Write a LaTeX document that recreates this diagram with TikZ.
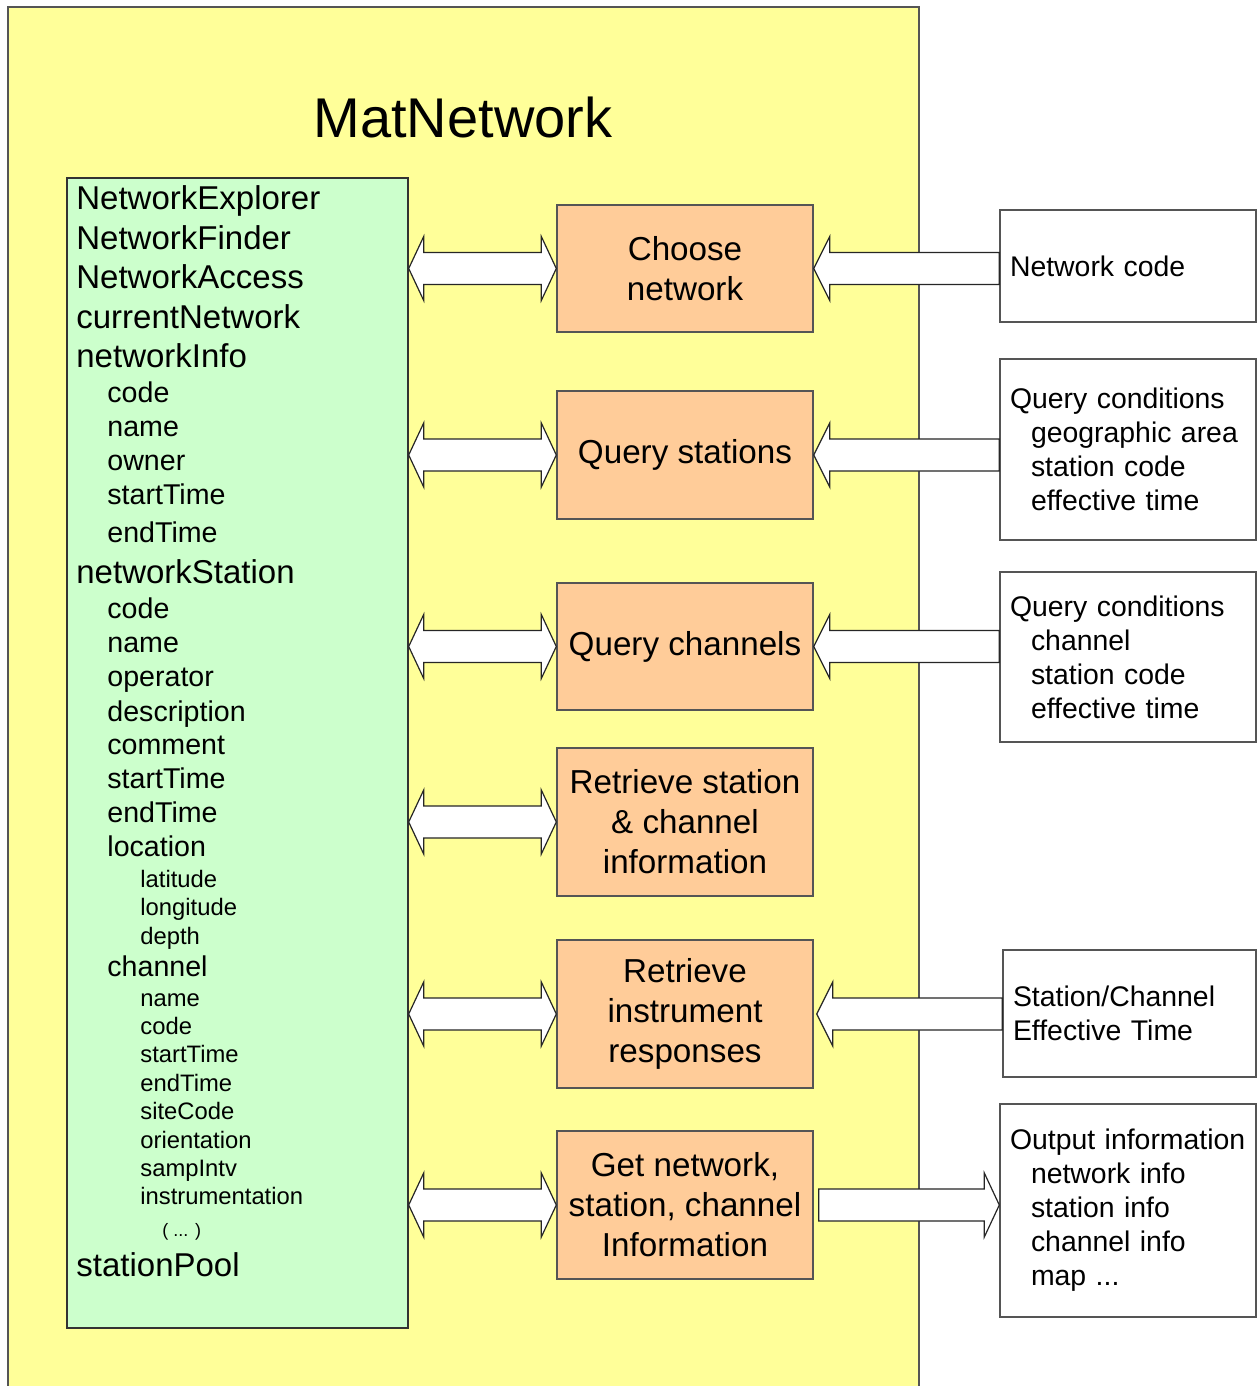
\documentclass[tikz,border=0pt]{standalone}
\usepackage{fontspec}
\setmainfont{Liberation Sans}
\usetikzlibrary{calc}
\definecolor{frameyellow}{HTML}{FFFF99}
\definecolor{listgreen}{HTML}{CCFFCC}
\definecolor{procorange}{HTML}{FFCC99}
\definecolor{edgegray}{HTML}{555555}
\tikzset{
blockarrow/.style={draw=black!85, fill=white, line width=0.6pt, line join=miter},
bigitem/.style={anchor=base west, inner sep=0pt, font=\fontsize{16.5}{20}\selectfont},
subitem/.style={anchor=base west, inner sep=0pt, font=\fontsize{14.3}{17}\selectfont},
leafitem/.style={anchor=base west, inner sep=0pt, font=\fontsize{11.9}{14}\selectfont},
procbox/.style={rectangle, draw=edgegray, line width=0.7pt, fill=procorange,
  minimum width=128pt, align=center, inner sep=0pt,
  font=\fontsize{16.6}{20}\selectfont},
infobox/.style={rectangle, draw=edgegray, line width=0.7pt, fill=white,
  text width=118pt, inner xsep=5pt, inner ysep=0pt, align=left,
  font=\fontsize{14.2}{17}\selectfont}
}
% two-headed block arrow between two points at the same height
\newcommand\twowayarrow[2]{%
  \draw[blockarrow] let \p1=(#1), \p2=(#2) in
    (\x1,\y1) -- (\x1+7.5pt,\y1+16pt) -- (\x1+7.5pt,\y1+8pt)
    -- (\x2-7.5pt,\y1+8pt) -- (\x2-7.5pt,\y1+16pt) -- (\x2,\y1)
    -- (\x2-7.5pt,\y1-16pt) -- (\x2-7.5pt,\y1-8pt)
    -- (\x1+7.5pt,\y1-8pt) -- (\x1+7.5pt,\y1-16pt) -- cycle;}
% block arrow pointing left: tip at #1, tail at #2
\newcommand\feedarrow[2]{%
  \draw[blockarrow] let \p1=(#1), \p2=(#2) in
    (\x1,\y1) -- (\x1+8pt,\y1+16pt) -- (\x1+8pt,\y1+8pt)
    -- (\x2,\y1+8pt) -- (\x2,\y1-8pt)
    -- (\x1+8pt,\y1-8pt) -- (\x1+8pt,\y1-16pt) -- cycle;}
% block arrow pointing right: tail at #1, tip at #2
\newcommand\sendarrow[2]{%
  \draw[blockarrow] let \p1=(#1), \p2=(#2) in
    (\x1,\y1+8pt) -- (\x2-7.5pt,\y1+8pt) -- (\x2-7.5pt,\y1+16pt)
    -- (\x2,\y1) -- (\x2-7.5pt,\y1-16pt) -- (\x2-7.5pt,\y1-8pt)
    -- (\x1,\y1-8pt) -- cycle;}
\begin{document}
\begin{tikzpicture}[x=0.5pt,y=-0.5pt]
\useasboundingbox (0,0) rectangle (1257,1386);
\begin{scope}
\clip (0,0) rectangle (1257,1386);
\fill[white] (0,0) rectangle (1257,1386);
\draw[draw=edgegray, line width=0.8pt, fill=frameyellow] (8,7) rectangle (919,1400);
\end{scope}

\node (title) at (463,117) [font=\fontsize{28}{34}\selectfont] {MatNetwork};

% member list
\node (vars) at (237.5,753) [rectangle, draw=black!80, line width=0.7pt, fill=listgreen,
  minimum width=170.5pt, minimum height=575pt, inner sep=0pt] {};
\foreach \y/\t [count=\i] in {209.5/NetworkExplorer, 249.5/NetworkFinder,
  288.5/NetworkAccess, 328.5/currentNetwork, 367.5/networkInfo,
  583.5/networkStation, 1276.5/stationPool}
  \node (big\i) at (76,\y) [bigitem] {\t};
\foreach \y/\t [count=\i] in {402/code, 436/name, 470/owner, 504/startTime,
  542/endTime, 618/code, 652/name, 686/operator, 721/description, 754/comment,
  788/startTime, 822/endTime, 856/location, 976/channel}
  \node (sub\i) at (107,\y) [subitem] {\t};
\foreach \y/\t [count=\i] in {887/latitude, 915/longitude, 944/depth, 1006/name,
  1034/code, 1062/startTime, 1091/endTime, 1119/siteCode, 1148/orientation,
  1176/sampIntv, 1204/instrumentation}
  \node (leaf\i) at (140,\y) [leafitem] {\t};
\node (more) at (162,1236) [anchor=base west, inner sep=0pt, font=\fontsize{9}{11}\selectfont] {( ... )};

% processing steps
\node (choose) at (685,268.5) [procbox, minimum height=63.5pt] {Choose\\network};
\node (qsta) at (685,455) [procbox, minimum height=64pt] {Query stations};
\node (qcha) at (685,646.5) [procbox, minimum height=63.5pt] {Query channels};
\node (retr) at (685,822) [procbox, minimum height=74pt] {Retrieve station\\\& channel\\information};
\node (resp) at (685,1014) [procbox, minimum height=74pt] {Retrieve\\instrument\\responses};
\node (getinfo) at (685,1205) [procbox, minimum height=74pt] {Get network,\\station, channel\\Information};

% inputs and output
\node (netcode) at (1128,266) [infobox, minimum height=56pt] {Network code};
\node (stacond) at (1128,449.5) [infobox, minimum height=90.5pt] {Query conditions\\
  \hspace*{10.5pt}geographic area\\\hspace*{10.5pt}station code\\\hspace*{10.5pt}effective time};
\node (chacond) at (1128,657) [infobox, minimum height=85pt] {Query conditions\\
  \hspace*{10.5pt}channel\\\hspace*{10.5pt}station code\\\hspace*{10.5pt}effective time};
\node (efftime) at (1129.5,1013.5) [infobox, text width=116.5pt, minimum height=63.5pt] {Station/Channel\\Effective Time};
\node (outinfo) at (1128,1210.5) [infobox, minimum height=106.5pt] {Output information\\
  \hspace*{10.5pt}network info\\\hspace*{10.5pt}station info\\\hspace*{10.5pt}channel info\\\hspace*{10.5pt}map ...};

% connectors
\foreach \s in {choose, qsta, qcha, retr, resp, getinfo}
  \twowayarrow{vars.east |- \s}{\s.west};
\feedarrow{choose.east}{netcode.west |- choose};
\feedarrow{qsta.east}{stacond.west |- qsta};
\feedarrow{qcha.east}{chacond.west |- qcha};
\feedarrow{[xshift=1.5pt]resp.east}{efftime.west |- resp};
\sendarrow{[xshift=2.5pt]getinfo.east}{outinfo.west |- getinfo};
\end{tikzpicture}
\end{document}
